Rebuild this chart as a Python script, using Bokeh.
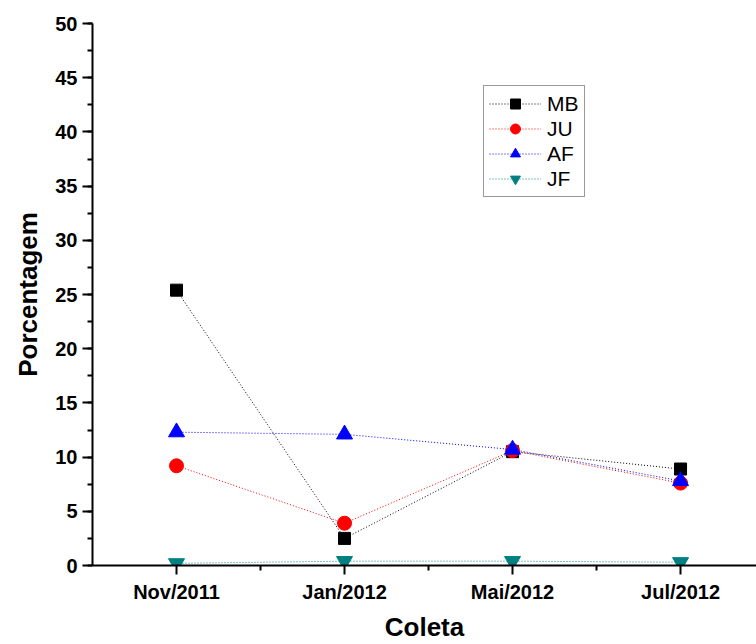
from bokeh.plotting import figure
from bokeh.models import FixedTicker, SingleIntervalTicker, Range1d, Legend, LegendItem
from bokeh.embed import file_html
from bokeh.resources import INLINE

categories = ["Nov/2011", "Jan/2012", "Mai/2012", "Jul/2012"]
xpos = [1, 2, 3, 4]
mb = [25.4, 2.5, 10.5, 8.9]
ju = [9.2, 3.9, 10.6, 7.6]
af = [12.3, 12.1, 10.7, 7.8]
jf = [0.2, 0.4, 0.4, 0.3]

FONT = "Liberation Sans"

p = figure(width=756, height=644, output_backend="svg", toolbar_location=None,
           x_range=Range1d(0.5, 4.452), y_range=Range1d(0, 50),
           min_border_left=92, min_border_top=23, min_border_bottom=79, min_border_right=0)
p.outline_line_color = None
p.grid.visible = False
p.background_fill_color = "white"

p.xaxis.ticker = FixedTicker(ticks=xpos, minor_ticks=[1.5, 2.5, 3.5, 4.5])
p.xaxis.major_label_overrides = {x: c for x, c in zip(xpos, categories)}
p.yaxis.ticker = SingleIntervalTicker(interval=5, num_minor_ticks=2)

for ax in (p.xaxis, p.yaxis):
    ax.axis_line_width = 2
    ax.major_tick_line_width = 2
    ax.minor_tick_line_width = 2
    ax.major_tick_in = 0
    ax.minor_tick_in = 0
    ax.major_label_text_font = FONT
    ax.major_label_text_font_style = "bold"
    ax.major_label_text_font_size = "20px"
    ax.axis_label_text_font = FONT
    ax.axis_label_text_font_style = "bold"
    ax.axis_label_text_font_size = "26px"
    ax.major_label_text_color = "black"
    ax.axis_label_text_color = "black"

p.xaxis.major_tick_out = 9
p.xaxis.minor_tick_out = 5
p.yaxis.major_tick_out = 10
p.yaxis.minor_tick_out = 5
p.xaxis.major_label_standoff = 6
p.yaxis.major_label_standoff = 5
p.xaxis.axis_label = "Coleta"
p.yaxis.axis_label = "Porcentagem"
p.xaxis.axis_label_standoff = 6
p.yaxis.axis_label_standoff = 9

series = [
    ("MB", mb, "black", "square", 12),
    ("JU", ju, "red", "circle", 14),
    ("AF", af, "blue", "triangle", 16),
    ("JF", jf, "#008080", "inverted_triangle", 16),
]

items = []
for name, ys, col, mk, sz in series:
    ln = p.line(xpos, ys, line_color=col, line_width=1, line_dash="1 2")
    sc = p.scatter(xpos, ys, marker=mk, size=sz, fill_color=col, line_color=col)
    items.append(LegendItem(label=name, renderers=[ln, sc]))

legend = Legend(items=items, location=(391, 368))
legend.label_text_font = FONT
legend.label_text_font_size = "21px"
legend.label_text_color = "black"
legend.glyph_width = 52
legend.glyph_height = 25
legend.label_height = 25
legend.spacing = 0
legend.padding = 5
legend.margin = 0
legend.label_standoff = 6
legend.border_line_color = "#333333"
legend.border_line_width = 1
legend.background_fill_alpha = 1
p.add_layout(legend)

open("out.html", "w").write(file_html(p, INLINE))
